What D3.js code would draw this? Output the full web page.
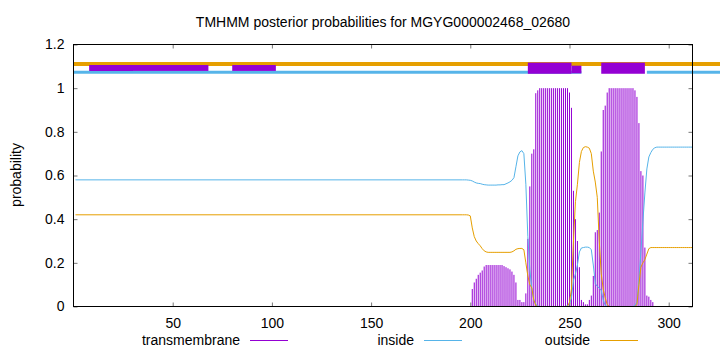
<!DOCTYPE html>
<html>
<head>
<meta charset="utf-8">
<script src="https://cdn.jsdelivr.net/npm/d3@7"></script>
<style>
  body { margin: 0; background: #fff; }
  svg text { font-family: "Liberation Sans", Arial, sans-serif; font-size: 14px; fill: #000; }
</style>
</head>
<body>
<svg id="chart" width="720" height="352"></svg>
<script>
// sequence / data
const seqLength = 312;
const leadInRes = 1;          // curves are flat from here to profileStart
const profileStart = 196;     // first residue of the arrays below

const insideProb = [
  0.58, 0.58, 0.58, 0.579,
  0.578, 0.575, 0.570, 0.566, 0.564, 0.563, 0.560, 0.558, 0.557, 0.556,
  0.556, 0.556, 0.556, 0.556, 0.557, 0.557, 0.558, 0.558, 0.562, 0.566,
  0.571, 0.578, 0.590, 0.640, 0.690, 0.708, 0.714, 0.700, 0.560, 0.320,
  0.170, 0.080, 0.030, 0.010, 0.003, 0, 0, 0, 0, 0,
  0, 0, 0, 0, 0, 0, 0, 0, 0, 0.005,
  0.01, 0.04, 0.12, 0.15, 0.19, 0.25, 0.268, 0.270, 0.272, 0.272,
  0.270, 0.26, 0.19, 0.105, 0.092, 0.085, 0.073, 0.030, 0.005, 0,
  0, 0, 0, 0, 0, 0, 0, 0, 0, 0,
  0, 0, 0, 0.005, 0.02, 0.12, 0.25, 0.39, 0.52, 0.63,
  0.685, 0.705, 0.72, 0.727, 0.73, 0.73, 0.73, 0.73, 0.73, 0.73,
  0.73, 0.73, 0.73, 0.73, 0.73, 0.73, 0.73, 0.73, 0.73, 0.73,
  0.73, 0.73, 0.73
];

const outsideProb = [
  0.42, 0.42, 0.42, 0.419,
  0.415, 0.36, 0.32, 0.30, 0.288, 0.278, 0.265, 0.255, 0.25, 0.248,
  0.248, 0.248, 0.248, 0.248, 0.248, 0.248, 0.248, 0.248, 0.248, 0.248,
  0.248, 0.25, 0.255, 0.262, 0.265, 0.266, 0.266, 0.26, 0.20, 0.14,
  0.10, 0.085, 0.03, 0.005, 0, 0, 0, 0, 0, 0,
  0, 0, 0, 0, 0, 0, 0, 0, 0, 0,
  0.02, 0.08, 0.30, 0.48, 0.56, 0.66, 0.71, 0.728, 0.732, 0.73,
  0.725, 0.70, 0.62, 0.57, 0.50, 0.30, 0.15, 0.08, 0.04, 0.01,
  0, 0, 0, 0, 0, 0, 0, 0, 0, 0,
  0, 0, 0, 0, 0.01, 0.10, 0.18, 0.20, 0.215, 0.24,
  0.265, 0.27, 0.27, 0.27, 0.27, 0.27, 0.27, 0.27, 0.27, 0.27,
  0.27, 0.27, 0.27, 0.27, 0.27, 0.27, 0.27, 0.27, 0.27, 0.27,
  0.27, 0.27, 0.27
];

const tmProb = [
  0, 0, 0, 0,
  0, 0.08, 0.11, 0.127, 0.145, 0.155, 0.165, 0.183, 0.19, 0.19,
  0.19, 0.19, 0.19, 0.19, 0.19, 0.19, 0.19, 0.185, 0.18, 0.175,
  0.17, 0.16, 0.145, 0.11, 0.03, 0.03, 0.02, 0.02, 0.06, 0.31,
  0.55, 0.70, 0.72, 0.977, 0.99, 1, 1, 1, 1, 1,
  1, 1, 1, 1, 1, 1, 1, 1, 1, 1,
  0.98, 0.91, 0.53, 0.40, 0.30, 0.18, 0.03, 0.02, 0.01, 0.01,
  0.03, 0.05, 0.14, 0.34, 0.35, 0.43, 0.71, 0.90, 0.92, 0.98,
  1, 1, 1, 1, 1, 1, 1, 1, 1, 1,
  1, 1, 1, 0.99, 0.96, 0.84, 0.62, 0.60, 0.27, 0.05,
  0.045, 0.03, 0.02, 0, 0, 0, 0, 0, 0, 0,
  0, 0, 0, 0, 0, 0, 0, 0, 0, 0,
  0, 0, 0
];

// predicted topology strip above the curves (residue ranges)
const outsideSegs = [[0, 330]];
const insideSegs = [[0, 256], [289, 330]];
const tmBoxesTall = [[229, 251], [266, 288]];
const tmBoxesLow = [[251, 256]];
const tmBoxesLeft = [[8, 30], [8, 68], [80, 102]];

const xTicks = [50, 100, 150, 200, 250, 300];
const yTicks = [0, 0.2, 0.4, 0.6, 0.8, 1, 1.2];

const legendItems = [
  { label: "transmembrane", color: "#9400d3" },
  { label: "inside", color: "#56b4e9" },
  { label: "outside", color: "#e69f00" }
];

const title = "TMHMM posterior probabilities for MGYG000002468_02680";

/* Scales */
const x = d3.scaleLinear().domain([0, seqLength]).range([73.5, 692.5]);
const y = d3.scaleLinear().domain([0, 1.2]).range([306.5, 44.5]);

const svg = d3.select("#chart");

// build residue tables
const toPoints = arr => [[leadInRes, arr[0]]].concat(arr.map((v, i) => [profileStart + i, v]));
const insidePts = toPoints(insideProb);
const outsidePts = toPoints(outsideProb);
const tmPts = tmProb.map((v, i) => [profileStart + i, v]).filter(d => d[1] > 0);

// impulses for transmembrane
svg.append("g")
  .selectAll("line")
  .data(tmPts)
  .enter()
  .append("line")
  .attr("x1", d => x(d[0]))
  .attr("x2", d => x(d[0]))
  .attr("y1", y(0))
  .attr("y2", d => y(d[1]))
  .attr("stroke", "#9400d3")
  .attr("stroke-width", 1);

const line = d3.line().x(d => x(d[0])).y(d => y(d[1]));

svg.append("path")
  .datum(insidePts)
  .attr("fill", "none")
  .attr("stroke", "#56b4e9")
  .attr("stroke-width", 1)
  .attr("d", line);

svg.append("path")
  .datum(outsidePts)
  .attr("fill", "none")
  .attr("stroke", "#e69f00")
  .attr("stroke-width", 1)
  .attr("d", line);

// topology strip
svg.append("g")
  .selectAll("line")
  .data(outsideSegs)
  .enter()
  .append("line")
  .attr("x1", d => x(d[0])).attr("x2", d => x(d[1]))
  .attr("y1", y(1.111)).attr("y2", y(1.111))
  .attr("stroke", "#e69f00")
  .attr("stroke-width", 4);

svg.append("g")
  .selectAll("line")
  .data(insideSegs)
  .enter()
  .append("line")
  .attr("x1", d => x(d[0])).attr("x2", d => x(d[1]))
  .attr("y1", y(1.073)).attr("y2", y(1.073))
  .attr("stroke", "#56b4e9")
  .attr("stroke-width", 3);

function boxes(data, lo, hi) {
  svg.append("g")
    .selectAll("rect")
    .data(data)
    .enter()
    .append("rect")
    .attr("x", d => x(d[0]))
    .attr("width", d => x(d[1]) - x(d[0]))
    .attr("y", y(hi))
    .attr("height", y(lo) - y(hi))
    .attr("fill", "#9400d3");
}
boxes(tmBoxesLeft, 1.079, 1.106);
boxes(tmBoxesLow, 1.068, 1.103);
boxes(tmBoxesTall, 1.066, 1.117);

/* Axes */
svg.append("g")
  .attr("transform", `translate(0,${y(0)})`)
  .call(d3.axisBottom(x).tickValues(xTicks).tickSizeInner(-4).tickSizeOuter(0).tickPadding(12));
svg.append("g")
  .attr("transform", `translate(0,${y(1.2)})`)
  .call(d3.axisTop(x).tickValues(xTicks).tickSizeInner(-4).tickSizeOuter(0).tickFormat(""));
svg.append("g")
  .attr("transform", `translate(${x(0)},0)`)
  .call(d3.axisLeft(y).tickValues(yTicks).tickSizeInner(-4).tickSizeOuter(0).tickPadding(9).tickFormat(d => String(d)));
svg.append("g")
  .attr("transform", `translate(${x(seqLength)},0)`)
  .call(d3.axisRight(y).tickValues(yTicks).tickSizeInner(-4).tickSizeOuter(0).tickFormat(""));

svg.selectAll(".domain").remove();
svg.selectAll(".tick line").attr("stroke", "#777");
svg.selectAll(".tick text")
  .attr("font-family", null).attr("font-size", null)
  .style("font-family", '"Liberation Sans", Arial, sans-serif').style("font-size", "14px");

// frame
svg.append("rect")
  .attr("x", x(0)).attr("y", y(1.2))
  .attr("width", x(seqLength) - x(0))
  .attr("height", y(0) - y(1.2))
  .attr("fill", "none")
  .attr("stroke", "#000")
  .attr("stroke-width", 1);

// labels
svg.append("text")
  .attr("x", 383).attr("y", 27)
  .attr("text-anchor", "middle")
  .text(title);

svg.append("text")
  .attr("transform", "translate(21,175) rotate(-90)")
  .attr("text-anchor", "middle")
  .text("probability");

// legend
const legendRight = [240, 414, 590];
const leg = svg.append("g").selectAll("g")
  .data(legendItems)
  .enter()
  .append("g");
leg.append("text")
  .attr("x", (d, i) => legendRight[i])
  .attr("y", 345)
  .attr("text-anchor", "end")
  .text(d => d.label);
leg.append("line")
  .attr("x1", (d, i) => legendRight[i] + 10)
  .attr("x2", (d, i) => legendRight[i] + 48)
  .attr("y1", 340.5).attr("y2", 340.5)
  .attr("stroke", d => d.color)
  .attr("stroke-width", 1);
</script>
</body>
</html>
